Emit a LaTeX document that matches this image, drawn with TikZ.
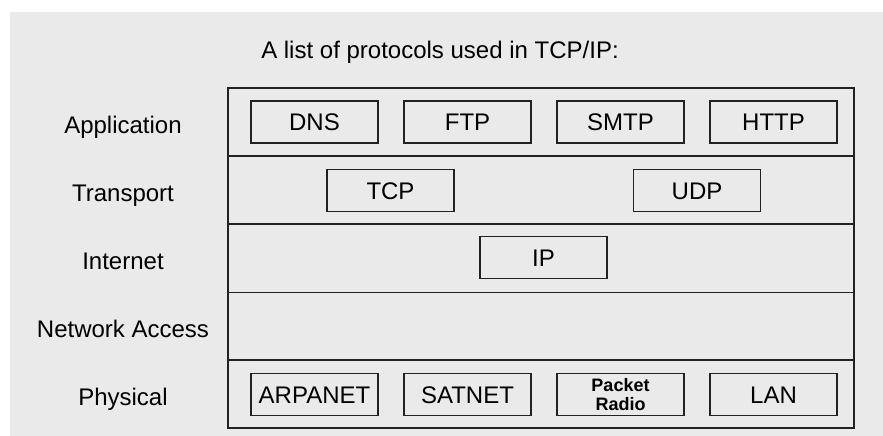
\documentclass[tikz,border=0pt]{standalone}
\usepackage{fontspec}
\setmainfont{Liberation Sans}
\definecolor{panel}{HTML}{EAEAEA}
\definecolor{ink}{HTML}{222222}
\begin{document}
\begin{tikzpicture}[x=1pt,y=-1pt,
  txt/.style={font=\fontsize{24}{28}\selectfont, text=black},
  layer/.style={draw=ink, line width=1.6pt, minimum width=626pt, minimum height=68pt, inner sep=0pt},
  proto/.style={txt, draw=ink, line width=1.4pt, fill=panel, minimum width=127pt, minimum height=42pt,
    inner sep=0pt, text height=17.2pt, text depth=0pt},
  lbl/.style={txt, anchor=base}]
  \useasboundingbox (0,0) rectangle (883,436);
  \fill[panel] (10,12) rectangle (883,436);

  % title
  \node[txt, anchor=base] (title) at (440,58.3) {A list of protocols used in TCP/IP:};

  % layer rows
  \node[layer] (app)  at (541,122) {};
  \node[layer] (tra)  at (541,190) {};
  \node[layer] (inet) at (541,258.5) {};
  \node[layer] (net)  at (541,326.5) {};
  \node[layer] (phy)  at (541,394) {};

  % layer names (placed on their baselines)
  \node[lbl] (lapp)  at (123,133.3) {Application};
  \node[lbl] (ltra)  at (123,201.3) {Transport};
  \node[lbl] (linet) at (123,269.8) {Internet};
  \node[lbl] (lnet)  at (123,337.8) {Network Access};
  \node[lbl] (lphy)  at (123,405.3) {Physical};

  % application protocols
  \node[proto] (dns)  at (314.5,122) {DNS};
  \node[proto] (ftp)  at (467.5,122) {FTP};
  \node[proto] (smtp) at (620.5,122) {SMTP};
  \node[proto] (http) at (773.5,122) {HTTP};

  % transport protocols
  \node[proto] (tcp) at (390.5,190.5) {TCP};
  \node[proto] (udp) at (697,190.5) {UDP};

  % internet protocol
  \node[proto] (ip) at (543.5,257.5) {IP};

  % physical networks
  \node[proto] (arpa)  at (314.5,394.5) {ARPANET};
  \node[proto] (sat)   at (467.5,394.5) {SATNET};
  \node[proto, font=\fontsize{18}{19}\selectfont\bfseries, align=center, text height=, text depth=] (radio) at (620.5,394.5) {Packet\\Radio};
  \node[proto] (lan)   at (773.5,394.5) {LAN};
\end{tikzpicture}
\end{document}
